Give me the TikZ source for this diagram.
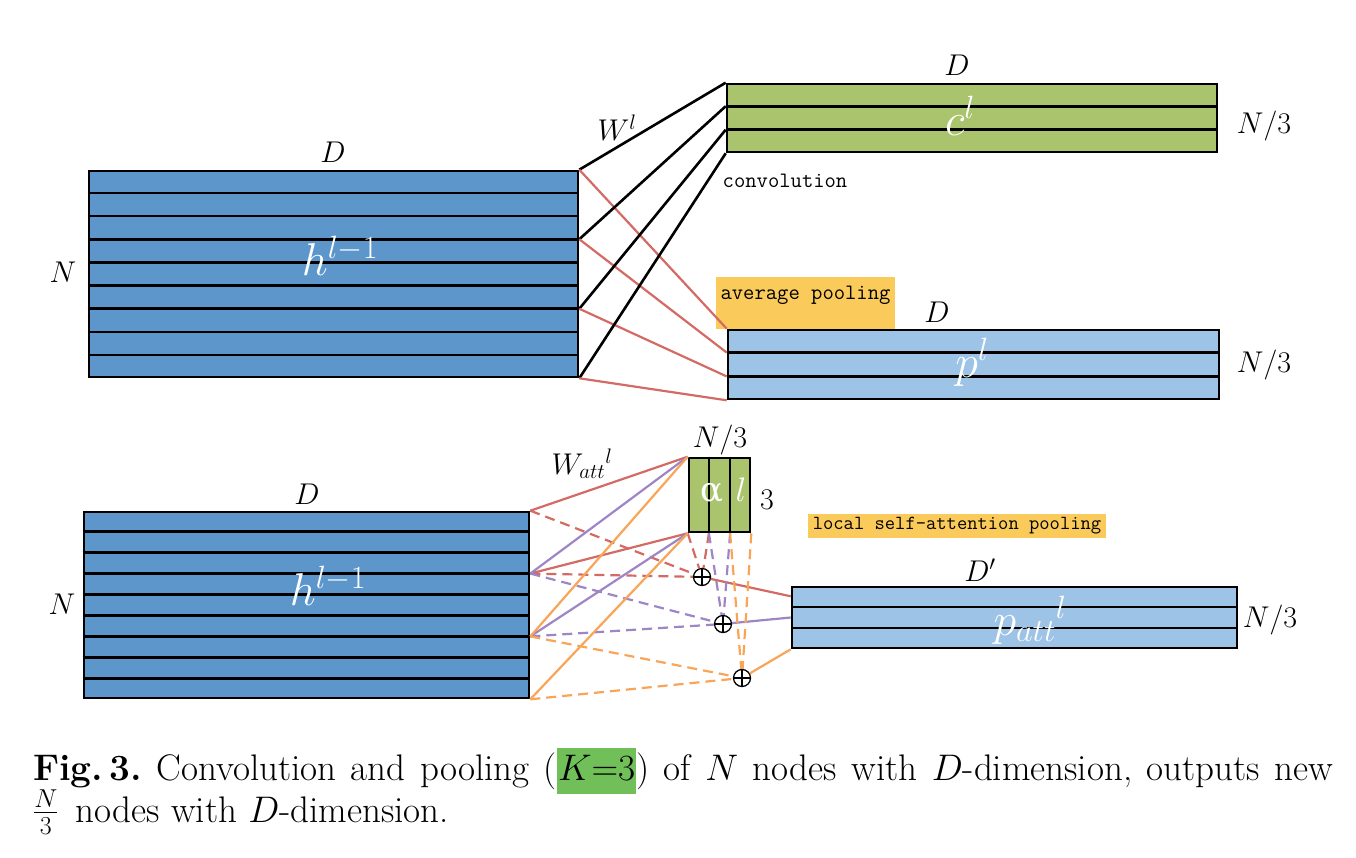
\RequirePackage{fix-cm}
\documentclass[tikz,border=0pt]{standalone}
\usepackage{amsmath,amssymb}
\usepackage{fontspec}
\newfontfamily\greekfont{DejaVu Serif}
\usepackage{tikz}
\usetikzlibrary{calc}
\usepackage{xcolor}

\definecolor{hblue}{RGB}{92,150,203}
\definecolor{cgreen}{RGB}{169,196,108}
\definecolor{pblue}{RGB}{157,195,230}
\definecolor{hlgold}{RGB}{250,202,90}
\definecolor{kgreen}{RGB}{112,191,88}
\definecolor{redline}{RGB}{212,106,100}
\definecolor{purpleline}{RGB}{158,134,198}
\definecolor{orangeline}{RGB}{248,165,88}

\tikzset{
	block/.style={draw,line width=2.6pt,inner sep=0pt},
	rowline/.style={line width=2.6pt},
	dimlabel/.style={font={\fontsize{30}{36}\selectfont}},
	blocklabel/.style={text=white,font={\fontsize{46}{54}\selectfont}},
	monolabel/.style={font={\ttfamily\fontsize{22}{26}\selectfont}},
	dashline/.style={dash pattern=on 10pt off 6pt},
	sumnode/.style={circle,draw,line width=1.3pt,minimum size=17pt,inner sep=0pt,
		path picture={\draw[line width=1.3pt] (path picture bounding box.north) -- (path picture bounding box.south)
			(path picture bounding box.west) -- (path picture bounding box.east);}},
}

\begin{document}
\begin{tikzpicture}[x=1pt,y=-1pt]
	\useasboundingbox (0,0) rectangle (1356,858);

	% blocks
	\begin{scope}[every node/.style={block}]
		\node[fill=hblue,minimum width=489pt,minimum height=206pt] (h1) at (333.5,274) {};
		\node[fill=cgreen,minimum width=490pt,minimum height=68pt] (c1) at (972,118) {};
		\node[fill=pblue,minimum width=491pt,minimum height=69pt] (p1) at (973.5,364.5) {};
		\node[fill=hblue,minimum width=445pt,minimum height=186pt] (h2) at (306.5,605) {};
		\node[fill=cgreen,minimum width=61pt,minimum height=74pt] (a1) at (719.5,495) {};
		\node[fill=pblue,minimum width=445pt,minimum height=61pt] (q2) at (1014.5,617.5) {};
	\end{scope}

	% rows
	\foreach \i in {1,...,8} {
		\draw[rowline] ($(h1.north west)!\i/9!(h1.south west)$) -- ($(h1.north east)!\i/9!(h1.south east)$);
		\draw[rowline] ($(h2.north west)!\i/9!(h2.south west)$) -- ($(h2.north east)!\i/9!(h2.south east)$);
	}
	\foreach \i in {1,2} {
		\draw[rowline] ($(c1.north west)!\i/3!(c1.south west)$) -- ($(c1.north east)!\i/3!(c1.south east)$);
		\draw[rowline] ($(p1.north west)!\i/3!(p1.south west)$) -- ($(p1.north east)!\i/3!(p1.south east)$);
		\draw[rowline] ($(q2.north west)!\i/3!(q2.south west)$) -- ($(q2.north east)!\i/3!(q2.south east)$);
		\draw[rowline] ($(a1.north west)!\i/3!(a1.north east)$) -- ($(a1.south west)!\i/3!(a1.south east)$);
	}

	% end points
	\foreach \i in {0,3,6,9} {
		\coordinate (h1e\i) at ($(h1.north east)!\i/9!(h1.south east)$);
		\coordinate (h2e\i) at ($(h2.north east)!\i/9!(h2.south east)$);
	}
	\foreach \j in {0,...,3} {
		\coordinate (c1e\j) at ($(c1.north west)!\j/3!(c1.south west)$);
		\coordinate (p1e\j) at ($(p1.north west)!\j/3!(p1.south west)$);
		\coordinate (a1b\j) at ($(a1.south west)!\j/3!(a1.south east)$);
	}
	\coordinate (q2r1) at ($(q2.north west)!1/6!(q2.south west)$);

	% highlight boxes
	\node[fill=hlgold,monolabel,inner ysep=0pt,minimum width=179pt,text height=23pt,text depth=29pt,anchor=base] (avg) at (805.5,300) {average pooling};
	\node[fill=hlgold,font={\ttfamily\fontsize{20}{24}\selectfont},inner sep=0pt,minimum width=298pt,minimum height=24pt] (lsa) at (957,526) {local self-attention pooling};

	% convolution and average pooling
	\foreach \i/\j in {0/0,3/1,6/2,9/3} {
		\draw[line width=2.6pt] (h1e\i) -- (c1e\j);
		\draw[line width=2.2pt,redline] (h1e\i) -- (p1e\j);
	}

	% local self-attention pooling
	\node[sumnode] (s1) at (702,577) {};
	\node[sumnode] (s2) at (723,624) {};
	\node[sumnode] (s3) at (742,678) {};
	\begin{scope}[line width=2.2pt,redline]
		\draw (a1.north west) -- (h2e0);
		\draw (a1.south west) -- (h2e3);
		\draw[dashline] (h2e0) -- (s1);
		\draw[dashline] (h2e3) -- (s1);
		\draw[dashline] (a1b0) -- (s1);
		\draw[dashline] (a1b1) -- (s1);
		\draw (s1) -- (q2r1);
	\end{scope}
	\begin{scope}[line width=2.2pt,purpleline]
		\draw (a1.north west) -- (h2e3);
		\draw (a1.south west) -- (h2e6);
		\draw[dashline] (h2e3) -- (s2);
		\draw[dashline] (h2e6) -- (s2);
		\draw[dashline] (a1b1) -- (s2);
		\draw[dashline] (a1b2) -- (s2);
		\draw (s2) -- (q2.west);
	\end{scope}
	\begin{scope}[line width=2.2pt,orangeline]
		\draw (a1.north west) -- (h2e6);
		\draw (a1.south west) -- (h2e9);
		\draw[dashline] (h2e6) -- (s3);
		\draw[dashline] (h2e9) -- (s3);
		\draw[dashline] (a1b2) -- (s3);
		\draw[dashline] (a1b3) -- (s3);
		\draw (s3) -- (q2.south west);
	\end{scope}

	% labels
	\begin{scope}[every node/.style={dimlabel}]
		\node (dh1) at (333,152) {$D$};
		\node (nh1) at (63,272) {$N$};
		\node (dc1) at (957,65) {$D$};
		\node (nc1) at (1264,126) {$N/3$};
		\node (dp1) at (937,312) {$D$};
		\node (np1) at (1264,365) {$N/3$};
		\node (w1) at (617,128) {$W^{l}$};
		\node (dh2) at (307,494) {$D$};
		\node (nh2) at (62,604) {$N$};
		\node (wa) at (582,464) {$W_{att}{}^{l}$};
		\node (na) at (720,440) {$N/3$};
		\node (ka) at (767,500) {$3$};
		\node (dq2) at (980,570) {$D'$};
		\node (nq2) at (1270,620) {$N/3$};
	\end{scope}
	\node[monolabel] (conv) at (785,181) {convolution};
	\begin{scope}[every node/.style={blocklabel}]
		\node (th1) at (340,256) {$h^{l-1}$};
		\node (tc1) at (960,116) {$c^{l}$};
		\node (tp1) at (972,362) {$p^{l}$};
		\node (th2) at (328,586) {$h^{l-1}$};
		\node (tq2) at (1030,620) {$p_{att}{}^{l}$};
		\node[font={\greekfont\fontsize{34}{40}\selectfont}] (ta1) at (712,493) {α};
		\node[font={\fontsize{34}{40}\selectfont}] (tl1) at (741,490) {$l$};
	\end{scope}

	% caption
	\begin{scope}[every node/.style={font={\fontsize{37}{44}\selectfont\frenchspacing},inner sep=0pt,anchor=base west}]
		\node (cap1) at (33,780) {\setlength{\fboxsep}{1pt}\makebox[1300pt][s]{\textbf{Fig.\,3.} Convolution and pooling (\colorbox{kgreen}{\strut$K{=}3$}) of $N$ nodes with $D$-dimension, outputs new}};
		\node (cap2) at (33,822) {$\frac{N}{3}$\, nodes with $D$-dimension.};
	\end{scope}
\end{tikzpicture}
\end{document}
